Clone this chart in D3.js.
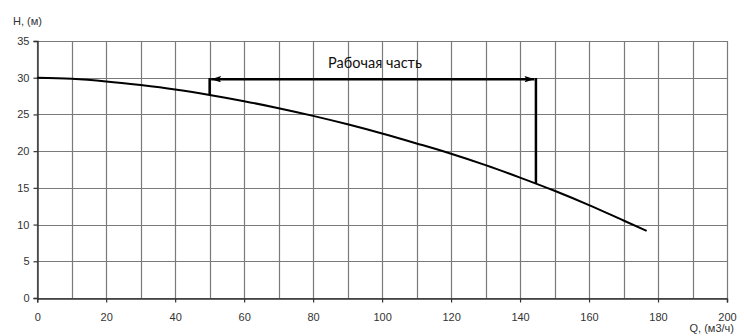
<!DOCTYPE html>
<html><head><meta charset="utf-8">
<script src="https://cdn.jsdelivr.net/npm/d3@7"></script>
<style>html,body{margin:0;padding:0;background:#fff;}svg{display:block;}</style>
</head><body>
<script>
const flowQ = [0,10,20,30,40,50,60,70,80,90,100,110,120,130,140,150,160,170,176.7];
const headH = [30,29.85,29.5,29.0,28.4,27.65,26.8,25.85,24.8,23.65,22.4,21.05,19.65,18.1,16.4,14.6,12.65,10.55,9.15];
const workQ = [50,144.6];
const workHBottom = [27.65,15.65];
const workHTop = 29.8;
const workLabel = "Рабочая часть";
const xTicks = [0,20,40,60,80,100,120,140,160,180,200];
const yTicks = [0,5,10,15,20,25,30,35];
const xGrid = d3.range(0,201,10);
const yGrid = d3.range(0,36,5);
const xTitle = "Q, (м3/ч)";
const yTitle = "H, (м)";

const W=744,H=336;
const svg=d3.select("body").append("svg").attr("width",W).attr("height",H);
const x=d3.scaleLinear().domain([0,200]).range([37.2,727]);
const y=d3.scaleLinear().domain([0,35]).range([298,41]);

const g=svg.append("g");
g.selectAll(".vg").data(xGrid).join("line")
 .attr("x1",d=>Math.round(x(d))+0.5).attr("x2",d=>Math.round(x(d))+0.5)
 .attr("y1",y(35)).attr("y2",y(0)).attr("stroke","#7a7a7a").attr("stroke-width",1.2);
g.selectAll(".hg").data(yGrid).join("line")
 .attr("y1",d=>Math.round(y(d))+0.5).attr("y2",d=>Math.round(y(d))+0.5)
 .attr("x1",x(0)).attr("x2",x(200)).attr("stroke","#7a7a7a").attr("stroke-width",1.2);

const xAxis=svg.append("g").attr("transform",`translate(0,${Math.round(y(0))+0.5})`)
 .call(d3.axisBottom(x).tickValues(xTicks).tickSize(4).tickPadding(11).tickFormat(d3.format("d")));
const yAxis=svg.append("g").attr("transform",`translate(${Math.round(x(0))+0.5},0)`)
 .call(d3.axisLeft(y).tickValues(yTicks).tickSize(4).tickPadding(4).tickFormat(d3.format("d")));
[xAxis,yAxis].forEach(a=>{
 a.select(".domain").attr("stroke","#333").attr("stroke-width",1.4);
 a.selectAll(".tick line").attr("stroke","#333").attr("stroke-width",1.2);
 a.selectAll("text").attr("fill","#333").attr("font-family","Liberation Sans, Arial, sans-serif").attr("font-size",11);
});

svg.append("text").attr("x",734).attr("y",332).attr("text-anchor","end")
 .attr("font-family","Liberation Sans, Arial, sans-serif").attr("font-size",11).attr("fill","#333").text(xTitle);
svg.append("text").attr("x",13).attr("y",25)
 .attr("font-family","Liberation Sans, Arial, sans-serif").attr("font-size",11).attr("fill","#333").text(yTitle);

const pts=flowQ.map((q,i)=>[q,headH[i]]);
svg.append("path").attr("d",d3.line().x(d=>x(d[0])).y(d=>y(d[1])).curve(d3.curveMonotoneX)(pts))
 .attr("fill","none").attr("stroke","#000").attr("stroke-width",2);

// working range
const defs=svg.append("defs");
defs.append("marker").attr("id","arr").attr("viewBox","0 0 10 10").attr("refX",10).attr("refY",5)
  .attr("markerWidth",4).attr("markerHeight",2.6).attr("markerUnits","strokeWidth").attr("orient","auto-start-reverse")
  .attr("preserveAspectRatio","none")
  .append("path").attr("d","M0,0 L10,5 L0,10 L2,5 z").attr("fill","#000");
const yTop=y(workHTop);
svg.append("line").attr("x1",x(workQ[0])+1.5).attr("x2",x(workQ[1])-1.5).attr("y1",yTop).attr("y2",yTop)
 .attr("stroke","#000").attr("stroke-width",2.5)
 .attr("marker-start","url(#arr)").attr("marker-end","url(#arr)");
workQ.forEach((q,i)=>{
 svg.append("line").attr("x1",x(q)).attr("x2",x(q)).attr("y1",yTop-1.2).attr("y2",y(workHBottom[i]))
  .attr("stroke","#000").attr("stroke-width",2.5);
});
svg.append("text").attr("x",375).attr("y",68).attr("text-anchor","middle")
 .attr("font-family","Lato, Open Sans, sans-serif").attr("font-size",14.5).attr("fill","#111").text(workLabel);
</script>
</body></html>
